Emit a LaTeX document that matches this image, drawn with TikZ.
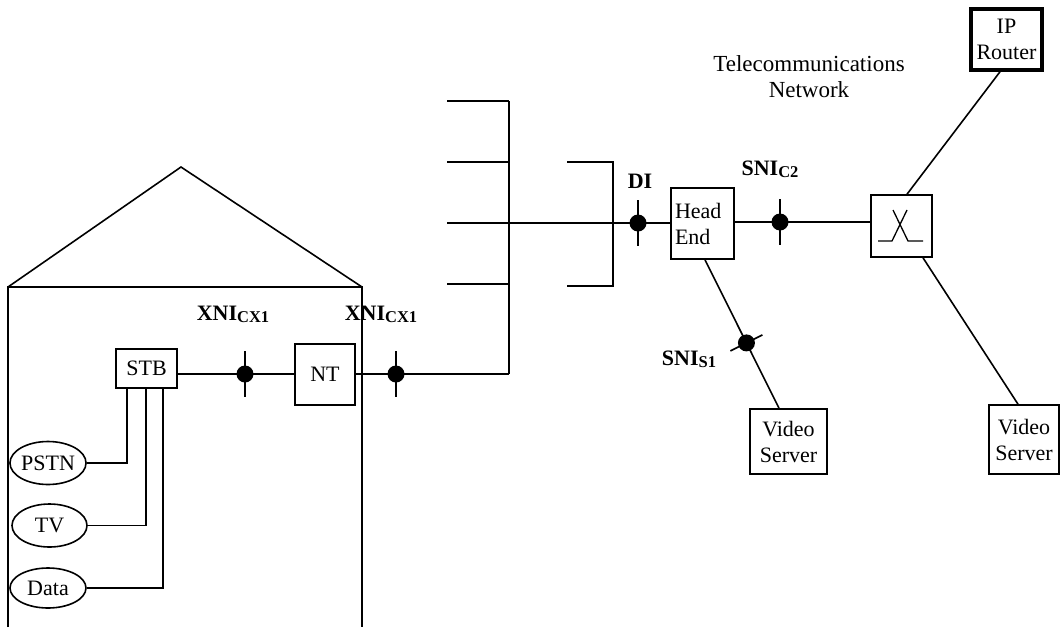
\documentclass[tikz,border=0pt]{standalone}
\usepackage{fontspec}
\setmainfont{Liberation Serif}
\usetikzlibrary{shapes.geometric,calc}
\newcommand{\lbl}[2]{\textbf{#1}\raisebox{-2pt}{\fontsize{16.5}{18}\selectfont\textbf{#2}}}
\begin{document}
\begin{tikzpicture}[x=1pt,y=-1pt,line width=1.6pt,
  every node/.style={font=\fontsize{22}{26}\selectfont},
  box/.style={draw,line width=1.6pt,inner sep=0pt,align=center},
  oval/.style={draw,ellipse,line width=1.6pt,inner sep=0pt},
  txt/.style={inner sep=0pt,align=center},
  tick/.style={line width=1.6pt},
  dot/.style={fill=black}]
\useasboundingbox (0,0) rectangle (1060,627);

% house
\coordinate (apex) at (181,167);
\coordinate (eL) at (8,287);
\coordinate (eR) at (362,287);
\coordinate (fL) at (8,627);
\coordinate (fR) at (362,627);
\draw (eL) -- (apex) -- (eR);
\draw (fL) -- (eL) -- (eR) -- (fR);

% nodes
\node[box,minimum width=61,minimum height=39] (stb) at (146.5,368.5) {STB};
\node[box,minimum width=60,minimum height=61] (nt) at (325,374.5) {NT};
\node[draw,line width=1.6pt,minimum height=71,text width=55pt,inner xsep=4pt,inner ysep=0pt,align=left] (he) at (702.5,223.5) {Head\\End};
\node[box,minimum width=61,minimum height=62] (sw) at (901.5,226) {};
\node[box,line width=3.5pt,minimum width=71,minimum height=61] (ipr) at (1006.5,39.5) {IP\\Router};
\node[box,minimum width=77,minimum height=65] (vs1) at (788.5,441.5) {Video\\Server};
\node[box,minimum width=70,minimum height=69] (vs2) at (1024,439.5) {Video\\Server};
\node[oval,minimum width=76,minimum height=43] (pstn) at (48,463) {PSTN};
\node[oval,minimum width=75,minimum height=43] (tv) at (49.5,525.5) {TV};
\node[oval,minimum width=76,minimum height=40] (data) at (48,588) {Data};

% switch symbol
\draw[line width=1.3pt] ($(sw)+(-23.5,15)$) -- ($(sw)+(-9.5,15)$) -- ($(sw)+(5.5,-16)$);
\draw[line width=1.3pt] ($(sw)+(-8.5,-16)$) -- ($(sw)+(6.5,15)$) -- ($(sw)+(21.5,15)$);

% junction points
\coordinate (j1) at (245,374);
\coordinate (j2) at (396,374);
\coordinate (di) at (638,223);
\coordinate (sc2) at (780,222);
\coordinate (heb) at ([xshift=2.5pt]he.south);
\coordinate (vst) at ([xshift=-9.5pt]vs1.north);
\coordinate (ss1) at ($(heb)!0.56!(vst)$);

% bus
\coordinate (bt) at (509,101);
\coordinate (bb) at (509,374);
\coordinate (s1) at (447,101);
\coordinate (s2) at (447,162);
\coordinate (s3) at (447,223);
\coordinate (s4) at (447,284);
\coordinate (k1) at (567,162);
\coordinate (k2) at (613,162);
\coordinate (k3) at (613,286);
\coordinate (k4) at (567,286);
\draw (bt) -- (bb);
\draw (s1) -- (bt);
\draw (s2) -- (s2 -| bt);
\draw (s4) -- (s4 -| bt);
\draw (k1) -- (k2) -- (k3) -- (k4);

% connectors
\draw (stb.east |- j1) -- (nt.west |- j1);
\draw (nt.east |- j2) -- (bb);
\draw (s3) -- (he.west |- s3);
\draw (he.east |- sc2) -- (sw.west |- sc2);
\draw ([xshift=5.5pt]sw.north) -- ([xshift=-6.5pt]ipr.south);
\draw ([xshift=21.5pt]sw.south) -- ([xshift=-6pt]vs2.north);
\draw (heb) -- (vst);
\draw ([xshift=-19.5pt]stb.south) |- (pstn.east);
\draw ([xshift=-0.5pt]stb.south) |- (tv.east);
\draw ([xshift=16.5pt]stb.south) |- (data.east);

% junction marks
\foreach \j in {j1,j2,di,sc2}{
  \fill[dot] (\j) circle (8.5pt);
  \draw[tick] ([yshift=23pt]\j) -- ([yshift=-23pt]\j);
}
\fill[dot] (ss1) circle (8.5pt);
\draw[tick] ($(ss1)+(-16,8)$) -- ($(ss1)+(16,-8)$);

% labels
\node[txt,font=\fontsize{23}{26}\selectfont] (tn) at (809,77) {Telecommunications\\Network};
\node[txt] (ldi) at (640,181) {\textbf{DI}};
\node[txt] (lsc2) at (770,169) {\lbl{SNI}{C2}};
\node[txt] (lss1) at (689,359) {\lbl{SNI}{S1}};
\node[txt] (lx1) at (233,314) {\lbl{XNI}{CX1}};
\node[txt] (lx2) at (381,314) {\lbl{XNI}{CX1}};
\end{tikzpicture}
\end{document}
